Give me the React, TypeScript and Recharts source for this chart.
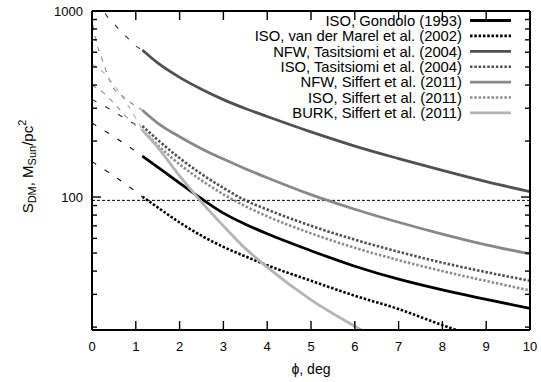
import React from 'react';
import { LineChart, Line, XAxis, YAxis, ReferenceLine, Legend } from 'recharts';

const FONT = '"Liberation Sans", Arial, Helvetica, sans-serif';

// axes
const phiTicks = [0, 1, 2, 3, 4, 5, 6, 7, 8, 9, 10];
const sTicks = [20, 30, 40, 50, 60, 70, 80, 90, 100, 200, 300, 400, 500, 600, 700, 800, 900, 1000];
const sMajor = [100, 1000];
const sDomain: [number, number] = [19.3, 1000];
const refLevel = 96;

// solid parts (phi, deg)
const phi = [1.15, 1.5, 2, 2.5, 3, 3.5, 4, 5, 6, 7, 8, 9, 10];
const sGondolo = [166, 145, 119, 98, 82, 71.5, 63.5, 51.5, 42.5, 36.2, 31.7, 28.2, 25.2];
const sMarel = [100.5, 88, 73, 62, 54, 48, 43, 35.5, 29.5, 25, 20.5, 17, 14.5];
const sNfwTas = [617, 526, 440, 380, 334, 299, 271, 224, 188, 161, 139, 121, 107];
const sIsoTas = [241, 203, 162, 133, 112, 96, 85.7, 70.1, 59, 50.8, 44.4, 39.5, 35.5];
const sNfwSif = [293, 250, 211, 182, 160, 142, 127, 103, 86, 73.2, 63.2, 55.3, 49.5];
const sIsoSif = [229, 190, 150, 123, 103.5, 89.4, 78.8, 63.8, 53.4, 45.8, 40, 35.4, 31.5];
const sBurk = [229, 185, 130, 94, 70, 53, 42, 28, 20.2, 15, 11.5, 9, 7.3];

// dashed extensions towards phi = 0
const phiExt = [0, 0.25, 0.5, 0.75, 1.0, 1.15];
const eGondolo = [250, 230, 211, 193, 176, 166];
const eMarel = [155, 142, 130, 118, 107, 100.5];
const eNfwTas = [2000, 1040, 855, 743, 648, 617];
const eIsoTas = [335, 312, 288, 265, 246, 241];
const phiExtNfwSif = [0.02, 0.1, 0.22, 0.45, 0.75, 1.15];
const eNfwSif = [840, 680, 560, 400, 341, 293];
const eIsoSif = [400, 365, 320, 275, 242, 229];
const eBurk = [520, 470, 400, 330, 265, 229];

const names = [
  'ISO, Gondolo (1993)',
  'ISO, van der Marel et al. (2002)',
  'NFW, Tasitsiomi et al. (2004)',
  'ISO, Tasitsiomi et al. (2004)',
  'NFW, Siffert et al. (2011)',
  'ISO, Siffert et al. (2011)',
  'BURK, Siffert et al. (2011)',
];

const pts = (xs: number[], ys: number[]) => xs.map((x, i) => ({ x, y: ys[i] }));

const DOT = '2.5 1.8';
const SERIES = [
  { name: names[0], data: pts(phi, sGondolo), ext: pts(phiExt, eGondolo), color: '#000000', w: 2.8, dash: undefined as string | undefined, extColor: '#000000', extDash: '5 10' },
  { name: names[1], data: pts(phi, sMarel), ext: pts(phiExt, eMarel), color: '#000000', w: 2.6, dash: DOT, extColor: '#000000', extDash: '5 10' },
  { name: names[2], data: pts(phi, sNfwTas), ext: pts(phiExt, eNfwTas), color: '#505050', w: 2.8, dash: undefined, extColor: '#303030', extDash: '5 10' },
  { name: names[3], data: pts(phi, sIsoTas), ext: pts(phiExt, eIsoTas), color: '#505050', w: 2.6, dash: DOT, extColor: '#303030', extDash: '5 10' },
  { name: names[4], data: pts(phi, sNfwSif), ext: pts(phiExtNfwSif, eNfwSif), color: '#888888', w: 2.8, dash: undefined, extColor: '#888888', extDash: '5 6' },
  { name: names[5], data: pts(phi, sIsoSif), ext: pts(phiExt, eIsoSif), color: '#8c8c8c', w: 2.6, dash: DOT, extColor: '#8c8c8c', extDash: '5 6' },
  { name: names[6], data: pts(phi, sBurk), ext: pts(phiExt, eBurk), color: '#b4b4b4', w: 2.8, dash: undefined, extColor: '#b4b4b4', extDash: '5 6' },
];

const BottomTick = (p: any) => {
  const { x, y, payload } = p;
  return (
    <g>
      <line x1={x} x2={x} y1={y} y2={y - 9} stroke="#000" strokeWidth={1.4} />
      <text x={x} y={y + 20.7} textAnchor="middle" fontSize={13} fontFamily={FONT} fill="#000">
        {payload.value}
      </text>
    </g>
  );
};

const TopTick = (p: any) => {
  const { x, y } = p;
  return <line x1={x} x2={x} y1={y} y2={y + 9} stroke="#000" strokeWidth={1.4} />;
};

const LeftTick = (p: any) => {
  const { x, y, payload } = p;
  const major = sMajor.includes(payload.value);
  return (
    <g>
      <line x1={x} x2={x + (major ? 9 : 5)} y1={y} y2={y} stroke="#000" strokeWidth={1.4} />
      {major && (
        <text x={x - 9} y={y + 4.6} textAnchor="end" fontSize={13} fontFamily={FONT} fill="#000">
          {payload.value}
        </text>
      )}
    </g>
  );
};

const RightTick = (p: any) => {
  const { x, y, payload } = p;
  const major = sMajor.includes(payload.value);
  return <line x1={x} x2={x - (major ? 9 : 5)} y1={y} y2={y} stroke="#000" strokeWidth={1.4} />;
};

const YLabel = (props: any) => {
  const vb = props.viewBox || { x: 0, y: 11, width: 92, height: 319 };
  const cx = vb.x + 27;
  const cy = vb.y + vb.height / 2 - 4;
  return (
    <text
      transform={`translate(${cx},${cy}) rotate(-90)`}
      textAnchor="middle"
      dominantBaseline="central"
      fontSize={15}
      fontFamily={FONT}
      fill="#000"
    >
      S<tspan dy={4.5} fontSize={11}>DM</tspan>
      <tspan dy={-4.5}>, M</tspan>
      <tspan dy={4.5} fontSize={11}>Sun</tspan>
      <tspan dy={-4.5}>/pc</tspan>
      <tspan dy={-5.5} fontSize={11}>2</tspan>
    </text>
  );
};

const XLabel = (props: any) => {
  const vb = props.viewBox || { x: 92, y: 330, width: 438, height: 52 };
  return (
    <text x={vb.x + vb.width / 2} y={vb.y + 44} textAnchor="middle" fontSize={14} fontFamily={FONT} fill="#000">
      ϕ, deg
    </text>
  );
};

const LegendContent = (props: any) => {
  const items = (props.payload || [])
    .filter((it: any) => names.includes(it.value))
    .sort((a: any, b: any) => names.indexOf(a.value) - names.indexOf(b.value));
  return (
    <svg width={541} height={130} style={{ display: 'block', overflow: 'visible' }}>
      {items.map((it: any, i: number) => {
        const y = 20.5 + i * 15.4;
        const s = SERIES.find((q) => q.name === it.value);
        const color = s ? s.color : it.color;
        const w = s ? s.w : 2.6;
        const dash = s ? s.dash : undefined;
        return (
          <g key={i}>
            <text x={462} y={y + 5.2} textAnchor="end" fontSize={14.8} fontFamily={FONT} fill="#000">
              {it.value}
            </text>
            <line x1={470} x2={511} y1={y} y2={y} stroke={color} strokeWidth={w} strokeDasharray={dash} />
          </g>
        );
      })}
    </svg>
  );
};

export default function App() {
  return (
    <div style={{ position: 'absolute', left: 0, top: 0, width: 541, height: 382, background: '#fff', fontFamily: FONT }}>
      <LineChart width={541} height={382} margin={{ top: 10, right: 10, bottom: 0, left: 0 }}>
        <XAxis
          xAxisId="b"
          type="number"
          dataKey="x"
          domain={[0, 10]}
          allowDataOverflow
          ticks={phiTicks}
          interval={0}
          tickSize={0}
          tickMargin={0}
          tickLine={false}
          tick={<BottomTick />}
          height={52}
          axisLine={{ stroke: '#000', strokeWidth: 2 }}
          label={XLabel}
        />
        <XAxis
          xAxisId="t"
          orientation="top"
          type="number"
          dataKey="x"
          domain={[0, 10]}
          allowDataOverflow
          ticks={phiTicks}
          interval={0}
          tickSize={0}
          tickMargin={0}
          tickLine={false}
          tick={<TopTick />}
          height={1}
          axisLine={{ stroke: '#000', strokeWidth: 2 }}
        />
        <YAxis
          yAxisId="l"
          scale="log"
          type="number"
          domain={sDomain}
          allowDataOverflow
          ticks={sTicks}
          interval={0}
          tickSize={0}
          tickMargin={0}
          tickLine={false}
          tick={<LeftTick />}
          width={92}
          axisLine={{ stroke: '#000', strokeWidth: 2 }}
          label={YLabel}
        />
        <YAxis
          yAxisId="r"
          orientation="right"
          scale="log"
          type="number"
          domain={sDomain}
          allowDataOverflow
          ticks={sTicks}
          interval={0}
          tickSize={0}
          tickMargin={0}
          tickLine={false}
          tick={<RightTick />}
          width={1}
          axisLine={{ stroke: '#000', strokeWidth: 2 }}
        />
        <ReferenceLine xAxisId="b" yAxisId="l" y={refLevel} stroke="#000" strokeWidth={1} strokeDasharray="3 2" />
        {SERIES.map((s, i) => (
          <Line
            key={'ext' + i}
            xAxisId="b"
            yAxisId="l"
            data={s.ext}
            dataKey="y"
            type="monotone"
            stroke={s.extColor}
            strokeWidth={1.1}
            strokeDasharray={s.extDash}
            dot={false}
            activeDot={false}
            legendType="none"
            isAnimationActive={false}
          />
        ))}
        {SERIES.map((s, i) => (
          <Line
            key={'s' + i}
            name={s.name}
            xAxisId="b"
            yAxisId="l"
            data={s.data}
            dataKey="y"
            type="monotone"
            stroke={s.color}
            strokeWidth={s.w}
            strokeDasharray={s.dash}
            dot={false}
            activeDot={false}
            isAnimationActive={false}
          />
        ))}
        <Legend
          layout="vertical"
          align="center"
          verticalAlign="middle"
          wrapperStyle={{ left: 0, top: 0, width: 541, height: 130 }}
          content={LegendContent}
        />
      </LineChart>
    </div>
  );
}
